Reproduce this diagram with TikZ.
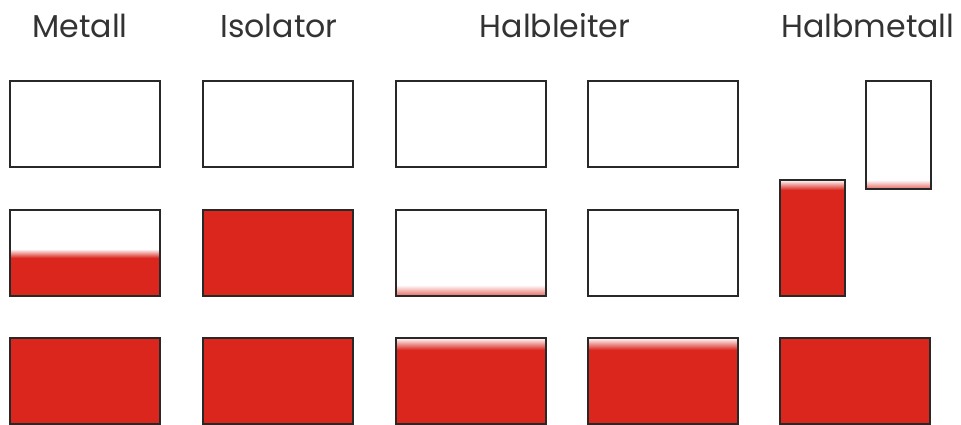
\documentclass[tikz,border=0pt]{standalone}
\usepackage{fontspec}
\setmainfont{Poppins}
\definecolor{bandred}{RGB}{218,38,29}
\definecolor{bandline}{RGB}{40,40,40}
\tikzset{
  band/.style={draw=bandline, line width=1.1pt, inner sep=0pt, anchor=north west, minimum width=3cm, minimum height=1.72cm},
  narrow/.style={band, minimum width=1.3cm, minimum height=#1},
  voll/.style={fill=bandred},
  % rot bis #1, Verlauf bis #2, oben weiss, unten #3
  teil/.style n args={3}{path picture={
    \fill[bandred] (path picture bounding box.south west) rectangle ([yshift=#1]path picture bounding box.south east);
    \shade[top color=white, bottom color=#3] ([yshift=#1]path picture bounding box.south west) rectangle ([yshift=#2]path picture bounding box.south east);}},
  titel/.style={anchor=base, font=\fontsize{18}{21}\selectfont, text=black!80},
}
\begin{document}
\begin{tikzpicture}[x=0.02cm, y=-0.02cm]
  \useasboundingbox (0,0) rectangle (961,425);
  % Ueberschriften
  \node[titel] (tmet) at (80,38) {Metall};
  \node[titel] (tiso) at (279,38) {Isolator};
  \node[titel] (thalb) at (555,38) {Halbleiter};
  \node[titel] (thm) at (868,38) {Halbmetall};

  % Metall
  \node[band] (met1) at (9,80) {};
  \node[band, teil={0.76cm}{0.94cm}{bandred}] (met2) at (9,209) {};
  \node[band, voll] (met3) at (9,337) {};

  % Isolator
  \node[band] (iso1) at (202,80) {};
  \node[band, voll] (iso2) at (202,209) {};
  \node[band, voll] (iso3) at (202,337) {};

  % Halbleiter
  \node[band] (hl1) at (395,80) {};
  \node[band, teil={0cm}{0.22cm}{bandred!70}] (hl2) at (395,209) {};
  \node[band, teil={1.48cm}{1.72cm}{bandred}] (hl3) at (395,337) {};
  \node[band] (hk1) at (587,80) {};
  \node[band] (hk2) at (587,209) {};
  \node[band, teil={1.48cm}{1.72cm}{bandred}] (hk3) at (587,337) {};

  % Halbmetall
  \node[narrow=2.16cm, teil={0cm}{0.18cm}{bandred!70}] (hm1) at (865,80) {};
  \node[narrow=2.32cm, teil={2.12cm}{2.32cm}{bandred}] (hm2) at (779,179) {};
  \node[band, voll] (hm3) at (779,337) {};
\end{tikzpicture}
\end{document}
